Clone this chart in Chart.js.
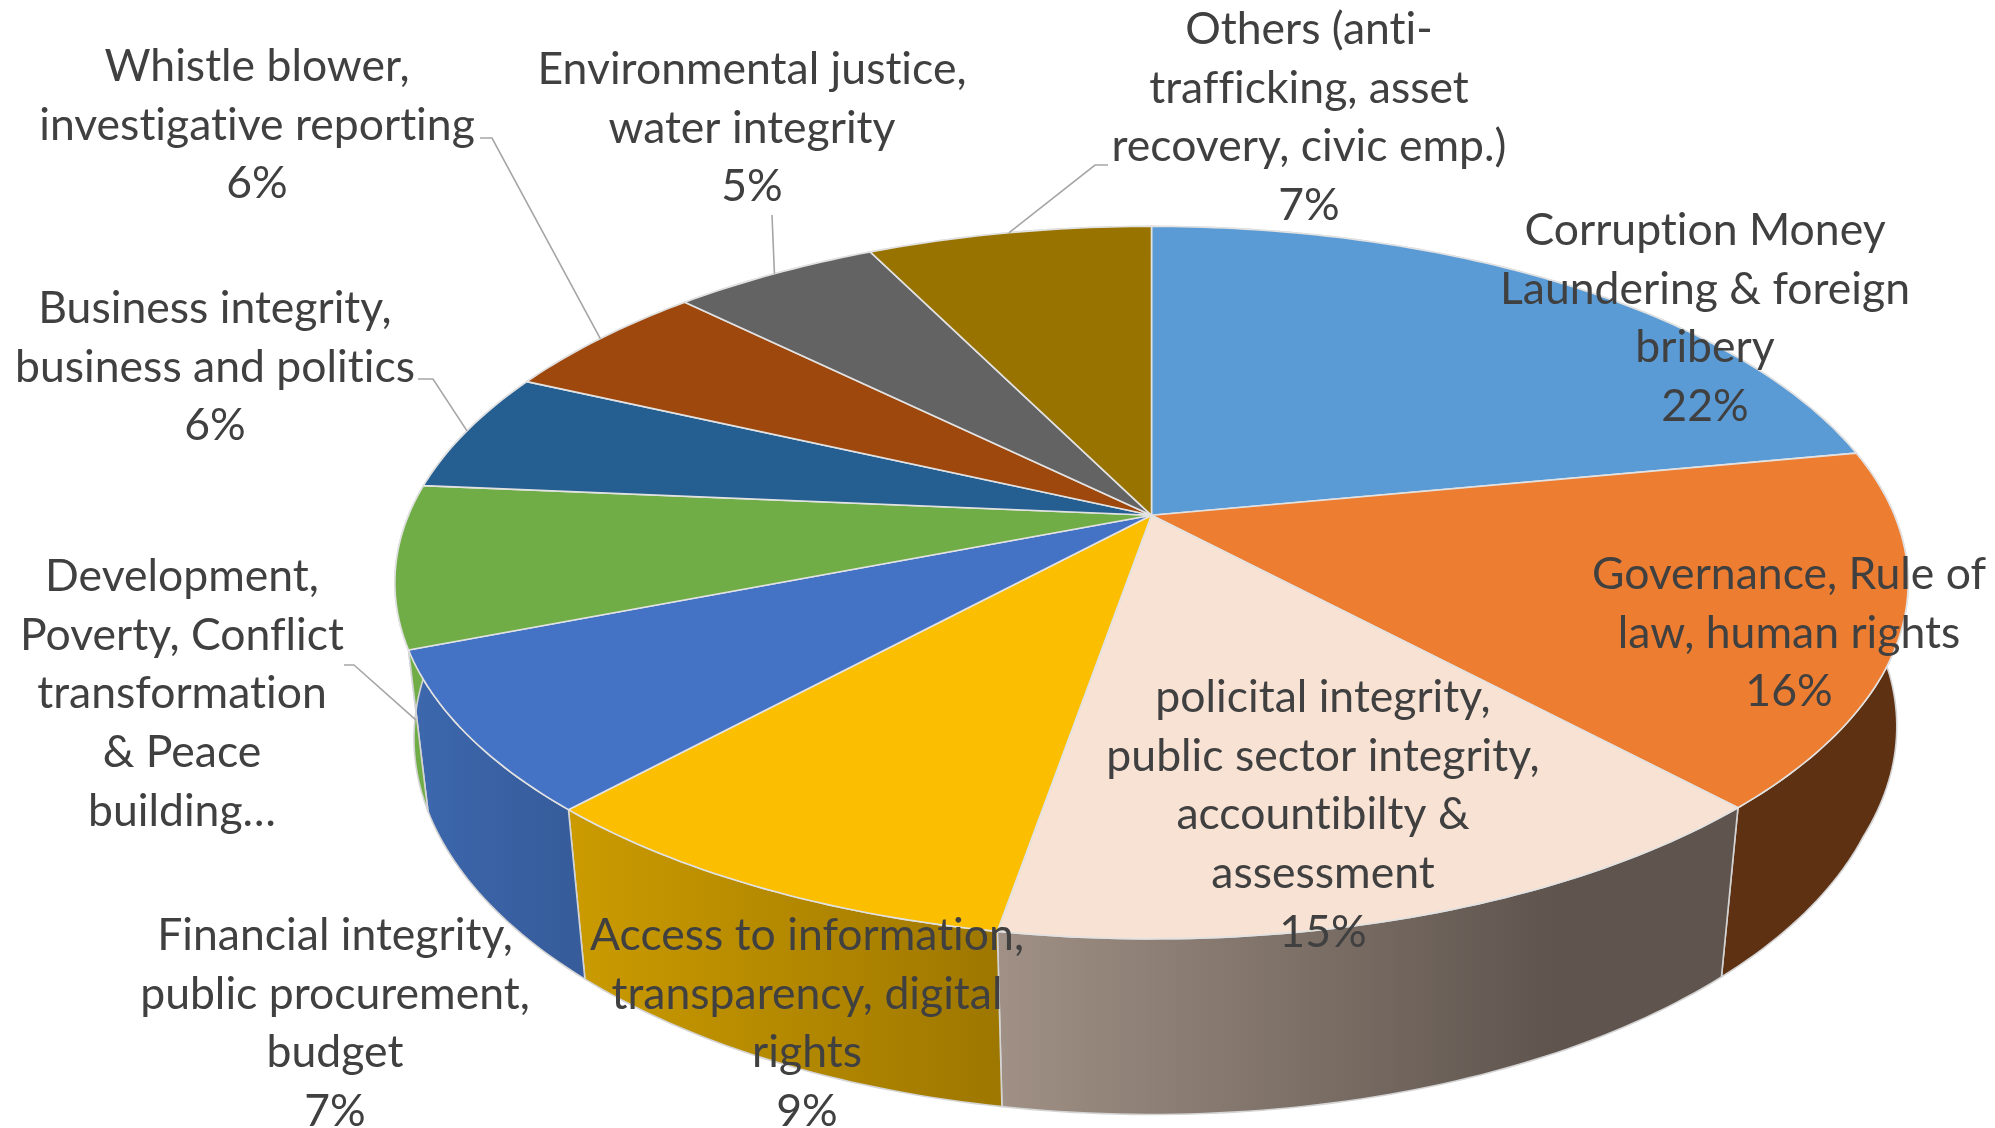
<!DOCTYPE html>
<html>
<head>
<meta charset="utf-8">
<title>Topics</title>
<script src="https://cdn.jsdelivr.net/npm/chart.js@4"></script>
<style>
  html,body{margin:0;padding:0;background:#fff;}
  canvas{display:block;}
</style>
</head>
<body>
<canvas id="pie3d" width="1995" height="1128"></canvas>
<script>
/* ---------- data ---------- */
const categories = [
  ["Corruption Money","Laundering & foreign","bribery"],
  ["Governance, Rule of","law, human rights"],
  ["policital integrity,","public sector integrity,","accountibilty &","assessment"],
  ["Access to information,","transparency, digital","rights"],
  ["Financial integrity,","public procurement,","budget"],
  ["Development,","Poverty, Conflict","transformation","& Peace","building…"],
  ["Business integrity,","business and politics"],
  ["Whistle blower,","investigative reporting"],
  ["Environmental justice,","water integrity"],
  ["Others (anti-","trafficking, asset","recovery, civic emp.)"]
];
const shares = [22, 16.1, 14.6, 9.1, 7.25, 7.35, 5.5, 5.5, 5.3, 7.3];
const percentCutOff = [5]; // label was truncated in the original, no % shown

/* ---------- styles ---------- */
const topColors = ["#5b9bd5","#ed7d31","#f7e2d4","#fbbe00","#4472c4","#70ad47","#255e91","#9e480e","#636363","#997300"];
const wallColors = [
  ["#3f6d96","#3f6d96"],["#5e3113","#5e3113"],["#a09085","#5f554e"],["#cb9b00","#9e7700"],
  ["#3d68ae","#365c9b"],["#70ad47","#70ad47"],["#1c466d","#1c466d"],["#76360b","#76360b"],
  ["#4a4a4a","#4a4a4a"],["#735600","#735600"]
];
// centre x, y of first line
const labelAnchors = [[1705,230.5],[1789,574.5],[1323,697.5],[807,935.5],[335,935.5],[182,576.5],[215,308.5],[257,66.5],[752,69.5],[1309,29.5]];
const leaders = [
  {slice:9, elbow:[1095,165], tail:1108},
  {slice:8, elbow:[772,215],  tail:772},
  {slice:7, elbow:[492,138],  tail:480},
  {slice:6, elbow:[433,379],  tail:418},
  {slice:5, elbow:[354,665],  tail:344, angleAt:0.02, depth:0.45}
];
const FONT = "44.5px Lato";
const LINE_H = 58.8;

/* ---------- perspective of the disc ---------- */
const SPREAD_X = 743, SPREAD_Y = 343.5, TILT = 0.189;   // top face
const DROP = 157.4;                                     // thickness

function project(el, angle, depth){
  const u = Math.cos(angle), v = Math.sin(angle);
  // the wall narrows more on the left and front than on the right
  const shrink = u < 0 ? 0.025 : Math.min(0.025, 0.008 + 0.04*Math.max(v,0));
  const w = 1 - TILT*v + shrink*depth;
  return {
    x: el.x + SPREAD_X*u/w,
    y: el.y + (SPREAD_Y*v + DROP*depth)/w
  };
}

function traceArc(ctx, el, from, to, depth, first){
  const steps = Math.max(8, Math.ceil(Math.abs(to-from)*60));
  for(let s=0;s<=steps;s++){
    const p = project(el, from + (to-from)*s/steps, depth);
    if(s===0 && first) ctx.moveTo(p.x,p.y); else ctx.lineTo(p.x,p.y);
  }
}

/* ---------- plugin: draws arcs of the pie in perspective ---------- */
const perspectivePie = {
  id:"perspectivePie",
  beforeDatasetDraw(chart, args){
    const ctx = chart.ctx;
    const arcs = args.meta.data;
    ctx.save();
    ctx.lineJoin = "round";

    // walls
    arcs.forEach((el,i)=>{
      let minX=1e9,maxX=-1e9;
      for(let t=0;t<=20;t++){
        const p = project(el, el.startAngle+(el.endAngle-el.startAngle)*t/20, 0);
        minX=Math.min(minX,p.x); maxX=Math.max(maxX,p.x);
      }
      const g = ctx.createLinearGradient(minX,0,maxX,0);
      g.addColorStop(0,wallColors[i][0]);
      g.addColorStop(i===2?0.75:1,wallColors[i][1]);
      g.addColorStop(1,wallColors[i][1]);
      ctx.beginPath();
      traceArc(ctx,el,el.startAngle,el.endAngle,0,true);
      traceArc(ctx,el,el.endAngle,el.startAngle,1,false);
      ctx.closePath();
      ctx.fillStyle = g;
      ctx.fill();
      ctx.strokeStyle = "#d4d4d4";
      ctx.lineWidth = 1.6;
      ctx.stroke();
    });

    // top face
    arcs.forEach((el,i)=>{
      ctx.beginPath();
      ctx.moveTo(el.x,el.y);
      traceArc(ctx,el,el.startAngle,el.endAngle,0,false);
      ctx.closePath();
      ctx.fillStyle = topColors[i];
      ctx.fill();
      ctx.strokeStyle = "#e2e2e2";
      ctx.lineWidth = 1.6;
      ctx.stroke();
    });
    ctx.restore();
    return false; // skip the flat arcs
  },
  afterDatasetsDraw(chart){
    const ctx = chart.ctx;
    const arcs = chart.getDatasetMeta(0).data;
    const total = shares.reduce((a,b)=>a+b,0);
    ctx.save();

    // leader lines
    ctx.strokeStyle = "#a6a6a6";
    ctx.lineWidth = 1.6;
    leaders.forEach(l=>{
      const el = arcs[l.slice];
      const ang = l.angleAt!==undefined
        ? el.startAngle + (el.endAngle-el.startAngle)*l.angleAt
        : (el.startAngle+el.endAngle)/2;
      const p = project(el, ang, l.depth||0);
      ctx.beginPath();
      ctx.moveTo(p.x,p.y);
      ctx.lineTo(l.elbow[0],l.elbow[1]);
      ctx.lineTo(l.tail,l.elbow[1]);
      ctx.stroke();
    });

    // labels
    ctx.font = FONT;
    ctx.letterSpacing = "0.01px"; // keeps Lato from joining the ti ligature
    ctx.fillStyle = "#404040";
    ctx.textAlign = "center";
    ctx.textBaseline = "middle";
    categories.forEach((lines,i)=>{
      const [cx,cy] = labelAnchors[i];
      const text = percentCutOff.includes(i) ? lines : lines.concat(Math.round(shares[i]/total*100)+"%");
      text.forEach((t,n)=>ctx.fillText(t,cx,cy+n*LINE_H));
    });
    ctx.restore();
  }
};

/* ---------- chart ---------- */
const APEX_X = 1151.5, APEX_Y = 515.3, BOX = 400;

new Chart(document.getElementById("pie3d").getContext("2d"),{
  type:"pie",
  data:{
    labels:categories.map(c=>c.join(" ")),
    datasets:[{
      data:shares,
      backgroundColor:topColors,
      borderWidth:0
    }]
  },
  options:{
    responsive:false,
    animation:false,
    devicePixelRatio:1,
    layout:{padding:{
      left:APEX_X-BOX, right:1995-APEX_X-BOX,
      top:APEX_Y-BOX, bottom:1128-APEX_Y-BOX
    }},
    plugins:{legend:{display:false},tooltip:{enabled:false}}
  },
  plugins:[perspectivePie]
});
</script>
</body>
</html>
